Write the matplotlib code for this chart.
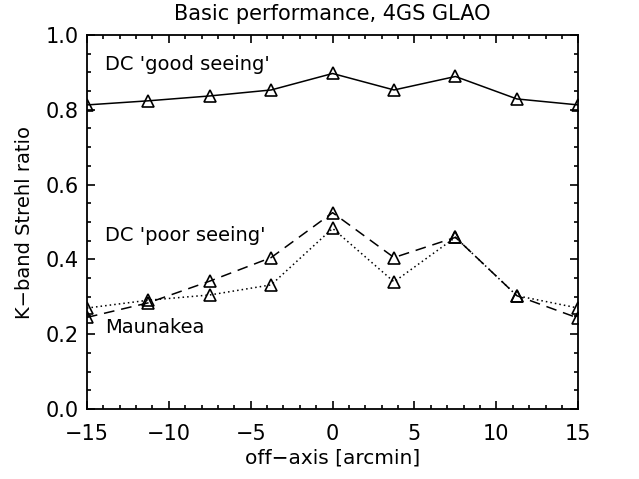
import matplotlib
matplotlib.use('Agg')
import matplotlib.pyplot as plt
from matplotlib.ticker import MultipleLocator

# off-axis positions [arcmin]
off_axis = [-15, -11.25, -7.5, -3.75, 0, 3.75, 7.5, 11.25, 15]

# K-band Strehl ratios
dc_good = [0.813, 0.824, 0.837, 0.853, 0.897, 0.853, 0.889, 0.829, 0.813]
dc_poor = [0.245, 0.284, 0.342, 0.405, 0.525, 0.405, 0.459, 0.303, 0.243]
maunakea = [0.270, 0.291, 0.305, 0.332, 0.483, 0.340, 0.459, 0.303, 0.270]

plt.rcParams['font.family'] = ['DejaVu Sans']

fig = plt.figure(figsize=(6.39, 4.79), dpi=100, facecolor='white')
ax = fig.add_axes([0.136, 0.146, 0.769, 0.781])

estilo = dict(color='black', lw=1.1, marker='^', ms=8, mfc='none', mec='black', mew=1.2)
ax.plot(off_axis, dc_good, ls='-', **estilo)
ax.plot(off_axis, dc_poor, ls=(0, (7, 4.5)), **estilo)
ax.plot(off_axis, maunakea, ls=(0, (1, 2)), **estilo)

ax.text(-13.9, 0.92, "DC 'good seeing'", fontsize=14, va='center')
ax.text(-13.9, 0.465, "DC 'poor seeing'", fontsize=14, va='center')
ax.text(-13.9, 0.217, "Maunakea", fontsize=14, va='center')

ax.set_xlim(-15, 15)
ax.set_ylim(0, 1.0)
ax.xaxis.set_major_locator(MultipleLocator(5))
ax.xaxis.set_minor_locator(MultipleLocator(1))
ax.yaxis.set_major_locator(MultipleLocator(0.2))
ax.yaxis.set_minor_locator(MultipleLocator(0.05))
ax.yaxis.set_major_formatter(matplotlib.ticker.FormatStrFormatter('%.1f'))
ax.tick_params(which='both', direction='in', top=True, right=True, labelsize=15, width=1.2)
ax.tick_params(axis='x', which='major', length=6, pad=11)
ax.tick_params(axis='y', which='major', length=6, pad=6)
ax.tick_params(which='minor', length=3)
for s in ax.spines.values():
    s.set_linewidth(1.3)

ax.set_xlabel('off\u2212axis [arcmin]', fontsize=14.5, labelpad=3)
ax.set_ylabel('K\u2212band Strehl ratio', fontsize=14, labelpad=8)
ax.set_title('Basic performance, 4GS GLAO', fontsize=15, pad=11)

fig.savefig('out.png', dpi=100)
